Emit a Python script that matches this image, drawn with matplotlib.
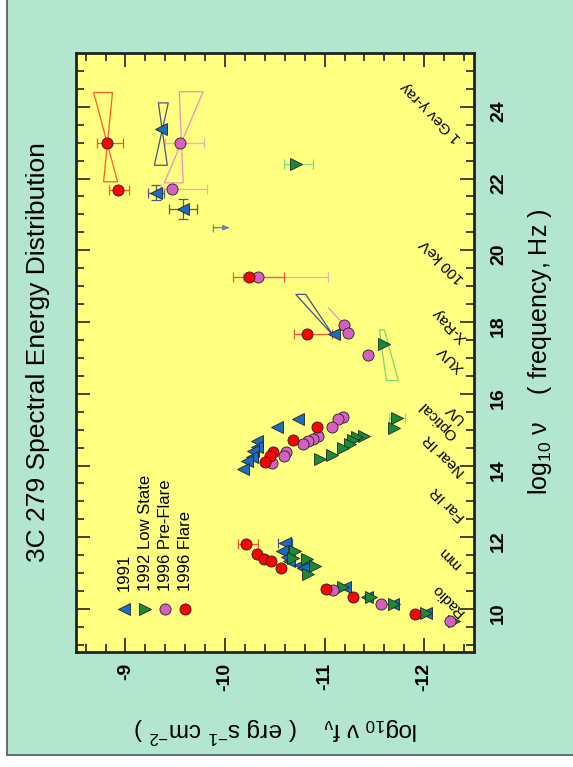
import matplotlib.pyplot as plt
import matplotlib.patches as mpatches
import numpy as np

plt.rcParams['font.family'] = ['Liberation Sans', 'DejaVu Sans']
plt.rcParams['mathtext.fontset'] = 'custom'
plt.rcParams['mathtext.rm'] = 'Liberation Sans'
plt.rcParams['mathtext.it'] = 'Liberation Sans:italic'
plt.rcParams['axes.unicode_minus'] = False

# log10 nu (Hz) and log10 nu*f_nu (erg/s/cm2) for each epoch
# err_hi / err_lo: error toward higher / lower flux, 0 = no bar
f91_freq = [11.85, 11.62, 11.45, 11.35, 11.22, 11.15, 10.60, 10.34, 10.14, 9.90,
            15.30, 15.06, 14.69, 14.51, 14.41, 14.23, 14.13, 13.90,
            17.67, 21.15, 21.61, 23.38]
f91_flux = [-10.60, -10.57, -10.62, -10.64, -10.75, -10.78, -11.20, -11.43, -11.69, -12.02,
            -10.73, -10.52, -10.32, -10.32, -10.28, -10.27, -10.22, -10.18,
            -11.09, -9.58, -9.31, -9.36]
f91_err_hi = [0.07, 0, 0, 0, 0, 0, 0, 0, 0, 0,
              0, 0, 0, 0, 0, 0, 0, 0,
              0, 0.14, 0.08, 0]
f91_err_lo = [0.07, 0, 0, 0, 0, 0, 0, 0, 0, 0,
              0, 0, 0, 0, 0, 0, 0, 0,
              0, 0.14, 0.08, 0]
f91_ferr = [0, 0, 0, 0, 0, 0, 0, 0, 0, 0,
            0, 0, 0, 0, 0, 0, 0, 0,
            0, 0.28, 0.22, 0]

f92_freq = [11.62, 11.43, 11.39, 11.20, 10.97, 10.60, 10.34, 10.13, 9.90, 9.66,
            15.32, 15.04, 14.83, 14.79, 14.72, 14.60, 14.48, 14.29, 14.18,
            17.39, 22.40]
f92_flux = [-10.70, -10.68, -10.82, -10.90, -10.83, -11.18, -11.47, -11.70, -12.02, -12.30,
            -11.73, -11.70, -11.40, -11.33, -11.28, -11.25, -11.18, -11.07, -10.95,
            -11.60, -10.71]
f92_err_hi = [0, 0, 0, 0, 0, 0, 0, 0, 0, 0,
              0.08, 0, 0, 0, 0, 0, 0, 0, 0,
              0, 0.12]
f92_err_lo = [0, 0, 0, 0, 0, 0, 0, 0, 0, 0,
              0.08, 0, 0, 0, 0, 0, 0, 0, 0,
              0, 0.17]

pre_freq = [10.53, 10.13, 9.66,
            15.36, 15.30, 15.06, 14.81, 14.74, 14.69, 14.60, 14.37, 14.26, 14.07,
            17.92, 17.70, 17.07, 19.25, 21.70, 23.00]
pre_flux = [-11.08, -11.57, -12.26,
            -11.18, -11.13, -11.07, -10.93, -10.88, -10.83, -10.78, -10.61, -10.59, -10.47,
            -11.19, -11.23, -11.44, -10.33, -9.47, -9.55]
pre_err_hi = [0, 0, 0,
              0, 0, 0, 0, 0, 0, 0, 0, 0, 0,
              0, 0, 0, 0.15, 0.12, 0.15]
pre_err_lo = [0, 0, 0,
              0, 0, 0, 0, 0, 0, 0, 0, 0, 0,
              0, 0, 0, 0.70, 0.35, 0.24]

flare_freq = [11.81, 11.53, 11.39, 11.34, 11.13, 10.55, 10.34, 9.85,
              15.06, 14.71, 14.37, 14.26, 14.11,
              17.67, 19.25, 21.68, 23.00]
flare_flux = [-10.21, -10.32, -10.39, -10.46, -10.56, -11.01, -11.28, -11.91,
              -10.92, -10.68, -10.48, -10.45, -10.40,
              -10.82, -10.24, -8.92, -8.81]
flare_err_hi = [0.08, 0, 0, 0, 0, 0, 0, 0,
                0, 0, 0, 0, 0,
                0.13, 0.16, 0.09, 0.10]
flare_err_lo = [0.12, 0, 0, 0, 0, 0, 0, 0,
                0, 0, 0, 0, 0,
                0.25, 0.35, 0.12, 0.17]

# spectral-index "bow ties": corners (flux, freq)
bow_flare = [(-8.68, 24.40), (-8.87, 24.40), (-8.78, 21.91), (-8.92, 21.91)]
bow_91_gamma = [(-9.33, 24.11), (-9.43, 24.11), (-9.29, 22.37), (-9.42, 22.37)]
bow_pre = [(-9.54, 24.42), (-9.78, 24.42), (-9.39, 21.88), (-9.58, 21.88)]
bow_91_x = [(-11.09, 17.61), (-10.71, 18.77), (-10.81, 18.77)]
bow_92_x = [(-11.55, 17.78), (-11.60, 17.78), (-11.74, 16.37), (-11.62, 16.37)]
slope_pre_x = [(-11.17, 18.00), (-11.04, 18.39)]

# 1991 upper limit
lim_freq = [20.63]
lim_from = [-9.88]
lim_to = [-10.05]

band_names = ['Radio', 'mm', 'Far IR', 'Near IR', 'Optical', 'UV',
              'XUV', 'X-Ray', '100 keV', '1 Gev γ-ray']
band_freq = [9.86, 11.17, 12.51, 13.77, 14.80, 15.25, 16.66, 17.50, 19.16, 23.07]
band_flux = [-12.38, -12.35, -12.395, -12.395, -12.31, -12.38, -12.38, -12.41, -12.38, -12.35]

legend_names = ['1991', '1992 Low State', '1996 Pre-Flare', '1996 Flare']
legend_flux = [-8.99, -9.20, -9.40, -9.60]

c_blue, c_green, c_pink, c_red = '#1c6cc0', '#1a8a3a', '#d65fc4', '#ff0000'
e_blue, e_green, e_pink, e_red = '#4a5a8c', '#7fdc7f', '#f4a6c6', '#ff5533'

fig = plt.figure(figsize=(5.73, 7.67), dpi=100)
fig.patch.set_facecolor('white')
fig.add_artist(mpatches.Rectangle((7 / 573, 12 / 767), 1.0, 1.0,
                                  transform=fig.transFigure, facecolor='#b3e6cf',
                                  edgecolor='#4d5a52', lw=1.2, zorder=-10))

ax = fig.add_axes([0.1321, 0.1499, 0.6951, 0.7810])
ax.set_facecolor('#ffff80')
ax.set_xlim(-8.5, -12.5)
ax.set_ylim(8.8, 25.5)


def draw_series(freq, flux, hi, lo, mk, col, ecol, ms, ferr=None):
    freq = np.array(freq)
    flux = np.array(flux)
    hi = np.array(hi)
    lo = np.array(lo)
    m = (hi > 0) | (lo > 0)
    if ferr is not None:
        ferr = np.array(ferr)
        m = m | (ferr > 0)
    if m.any():
        ax.errorbar(flux[m], freq[m], xerr=[lo[m], hi[m]],
                    yerr=None if ferr is None else ferr[m],
                    fmt='none', ecolor=ecol, elinewidth=0.9, capsize=3.5,
                    capthick=0.9, zorder=3)
    ax.plot(flux, freq, mk, ms=ms, color=col, mec='#222222', mew=0.6,
            ls='none', zorder=4)


for pts, col in [(bow_flare, '#ff5a2a'), (bow_91_gamma, '#4a4f8a'),
                 (bow_pre, '#f08cc0'), (bow_91_x, '#4a4f8a'),
                 (bow_92_x, '#7ad870')]:
    ax.add_patch(mpatches.Polygon(pts, closed=True, fill=False, ec=col,
                                  lw=0.9, zorder=2))
ax.plot([p[0] for p in slope_pre_x], [p[1] for p in slope_pre_x],
        color='#f08cc0', lw=0.9, zorder=2)

for fq, a, b in zip(lim_freq, lim_from, lim_to):
    ax.annotate('', xy=(b, fq), xytext=(a, fq),
                arrowprops=dict(arrowstyle='-|>,head_width=0.15,head_length=0.4',
                                color='#7080a8', lw=0.9, shrinkA=0, shrinkB=0))
    ax.plot([a], [fq], '|', ms=6, mew=0.9, color='#7080a8')

draw_series(f91_freq, f91_flux, f91_err_hi, f91_err_lo, '<', c_blue, e_blue, 8.5, f91_ferr)
draw_series(f92_freq, f92_flux, f92_err_hi, f92_err_lo, '>', c_green, e_green, 8.5)
draw_series(pre_freq, pre_flux, pre_err_hi, pre_err_lo, 'o', c_pink, e_pink, 8)
draw_series(flare_freq, flare_flux, flare_err_hi, flare_err_lo, 'o', c_red, e_red, 8)

# legend, drawn rotated along the frequency axis
for name, fx, mk, col in zip(legend_names, legend_flux, ['<', '>', 'o', 'o'],
                             [c_blue, c_green, c_pink, c_red]):
    ax.plot([fx], [10.0], mk, ms=8, color=col, mec='#222222', mew=0.6)
    ax.text(fx, 10.5, name, rotation=90, ha='center', va='bottom', fontsize=12)

for name, fq, fx in zip(band_names, band_freq, band_flux):
    ax.text(fx, fq, name, rotation=135, rotation_mode='anchor',
            ha='left', va='center', fontsize=11)

ax.set_xticks([-9, -10, -11, -12])
ax.set_xticks(np.arange(-8.6, -12.5, -0.2), minor=True)
ax.set_yticks(np.arange(10, 25, 2))
ax.set_yticks(np.arange(9.0, 25.5, 0.5), minor=True)
ax.tick_params(which='both', direction='in', top=True, bottom=True,
               left=True, right=True, labelleft=False, labelright=True,
               color='#222222', width=1.2)
ax.tick_params(which='major', length=10)
ax.tick_params(which='minor', length=6)
ax.tick_params(axis='x', labelrotation=90, labelsize=14, pad=8)
ax.tick_params(axis='y', labelrotation=90, labelsize=14, pad=11.5)
for t in ax.get_xticklabels() + ax.get_yticklabels():
    t.set_fontweight('bold')
for s in ax.spines.values():
    s.set_linewidth(2)
    s.set_color('#222222')

fig.text(38 / 573, 1 - 352 / 767, '3C 279 Spectral Energy Distribution',
         rotation=90, ha='center', va='center', fontsize=19)
fig.text(540 / 573, 1 - 352 / 767,
         r'$\mathregular{log_{10}\ \nu}$    ( frequency, Hz )',
         rotation=90, ha='center', va='center', fontsize=18)
fig.text(276 / 573, 1 - 730 / 767,
         r'$\mathregular{log_{10}\ \nu\ f_{\nu}}$    ( erg s$^{\mathregular{-1}}$ cm$^{\mathregular{-2}}$ )',
         rotation=180, ha='center', va='center', fontsize=17.5)

fig.savefig('out.png', dpi=100)
